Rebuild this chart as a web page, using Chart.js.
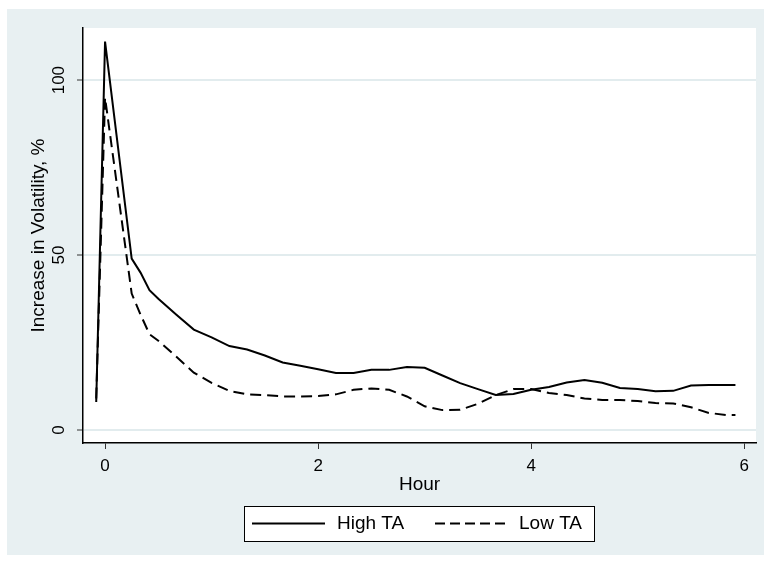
<!DOCTYPE html>
<html lang="en">
<head>
    <meta charset="UTF-8">
    <title>Increase in Volatility</title>
    <script src="https://cdn.jsdelivr.net/npm/chart.js"></script>
    <style>
        body {
            margin: 0;
            background: #ffffff;
        }
        .wrap {
            width: 764px;
            height: 562px;
        }
    </style>
</head>
<body>
    <div class="wrap">
        <canvas id="volChart" width="764" height="562"></canvas>
    </div>

    <script>
        // Hours after the event (x values)
        const hours = [-0.083, 0, 0.25, 0.333, 0.417, 0.5, 0.667, 0.833, 1.0, 1.167, 1.333, 1.5, 1.667, 1.833, 2.0, 2.167, 2.333, 2.5, 2.667, 2.833, 3.0, 3.167, 3.333, 3.5, 3.667, 3.833, 4.0, 4.167, 4.333, 4.5, 4.667, 4.833, 5.0, 5.167, 5.333, 5.5, 5.667, 5.833, 5.917];

        // Increase in volatility, %
        const highTA = [8, 111, 49, 45, 40, 37.5, 33, 28.7, 26.5, 24, 23, 21.3, 19.3, 18.4, 17.4, 16.3, 16.3, 17.2, 17.2, 18, 17.8, 15.6, 13.4, 11.7, 10, 10.3, 11.5, 12.3, 13.6, 14.3, 13.5, 12, 11.7, 11.1, 11.2, 12.7, 12.9, 12.9, 12.9];
        const lowTA = [9, 95, 39, 33, 27.4, 25.5, 21, 16.4, 13.5, 11.2, 10.2, 10, 9.6, 9.6, 9.7, 10.2, 11.5, 11.9, 11.5, 9.6, 6.8, 5.7, 5.8, 7.5, 10, 11.7, 11.7, 10.6, 10, 9, 8.6, 8.6, 8.3, 7.7, 7.6, 6.5, 4.9, 4.3, 4.3];

        // Tick labels
        const xTicks = [0, 2, 4, 6];
        const yTicks = [0, 50, 100];

        const seriesNames = ["High TA", "Low TA"];

        const FONT = "'Liberation Sans', Arial, sans-serif";
        const BG = "#e8f0f2";

        // grey page background + white plot region
        const backdrop = {
            id: 'backdrop',
            beforeDraw(chart) {
                const ctx = chart.ctx;
                const a = chart.chartArea;
                ctx.save();
                ctx.fillStyle = '#ffffff';
                ctx.fillRect(0, 0, chart.width, chart.height);
                ctx.fillStyle = BG;
                ctx.fillRect(7, 9, chart.width - 7, 546);
                ctx.fillStyle = '#ffffff';
                ctx.fillRect(a.left, a.top, a.right - a.left, a.bottom - a.top);
                ctx.restore();
            }
        };

        // rotated y tick labels (stata style) and the boxed legend
        const extras = {
            id: 'extras',
            afterDraw(chart) {
                const ctx = chart.ctx;
                const y = chart.scales.y;
                ctx.save();
                ctx.fillStyle = '#000';
                ctx.font = '17px ' + FONT;
                ctx.textAlign = 'center';
                ctx.textBaseline = 'middle';
                yTicks.forEach(v => {
                    ctx.save();
                    ctx.translate(59, y.getPixelForValue(v));
                    ctx.rotate(-Math.PI / 2);
                    ctx.fillText(String(v), 0, 0);
                    ctx.restore();
                });

                // legend
                ctx.fillStyle = '#ffffff';
                ctx.fillRect(244.5, 506.5, 350, 35);
                ctx.strokeStyle = '#000';
                ctx.lineWidth = 1;
                ctx.strokeRect(244.5, 506.5, 350, 35);

                ctx.lineWidth = 2;
                ctx.beginPath();
                ctx.moveTo(252, 523.5);
                ctx.lineTo(325, 523.5);
                ctx.stroke();

                ctx.setLineDash([10, 5]);
                ctx.beginPath();
                ctx.moveTo(435, 523.5);
                ctx.lineTo(508, 523.5);
                ctx.stroke();
                ctx.setLineDash([]);

                ctx.fillStyle = '#000';
                ctx.font = '19px ' + FONT;
                ctx.textAlign = 'left';
                ctx.fillText(seriesNames[0], 337, 524);
                ctx.fillText(seriesNames[1], 519, 524);
                ctx.restore();
            }
        };

        const ctx = document.getElementById('volChart').getContext('2d');
        const volChart = new Chart(ctx, {
            type: 'line',
            data: {
                datasets: [
                    {
                        label: seriesNames[0],
                        data: hours.map((h, i) => ({ x: h, y: highTA[i] })),
                        borderColor: '#000',
                        borderWidth: 2,
                        pointRadius: 0,
                        tension: 0,
                        fill: false
                    },
                    {
                        label: seriesNames[1],
                        data: hours.map((h, i) => ({ x: h, y: lowTA[i] })),
                        borderColor: '#000',
                        borderWidth: 2,
                        borderDash: [11, 6],
                        pointRadius: 0,
                        tension: 0,
                        fill: false
                    }
                ]
            },
            options: {
                responsive: false,
                animation: false,
                layout: {
                    padding: { left: 23, top: 28, right: 8, bottom: 62 }
                },
                plugins: {
                    legend: { display: false },
                    tooltip: { enabled: false }
                },
                scales: {
                    x: {
                        type: 'linear',
                        min: -0.207,
                        max: 6.11,
                        afterBuildTicks: s => { s.ticks = xTicks.map(v => ({ value: v })); },
                        afterFit: s => { s.height = 57; },
                        grid: {
                            drawOnChartArea: false,
                            drawTicks: true,
                            tickLength: 6,
                            tickColor: '#333'
                        },
                        border: { color: '#000', width: 1.5 },
                        ticks: {
                            color: '#000',
                            padding: 7,
                            maxRotation: 0,
                            font: { family: FONT, size: 17 }
                        },
                        title: {
                            display: true,
                            text: 'Hour',
                            color: '#000',
                            font: { family: FONT, size: 19 }
                        }
                    },
                    y: {
                        min: -3.7,
                        max: 114.9,
                        afterBuildTicks: s => { s.ticks = yTicks.map(v => ({ value: v })); },
                        afterFit: s => { s.width = 60; },
                        grid: {
                            color: '#e2ecee',
                            lineWidth: 2,
                            drawTicks: true,
                            tickLength: 6,
                            tickColor: '#333',
                            tickWidth: 1
                        },
                        border: { color: '#000', width: 1.5 },
                        ticks: { display: false },
                        title: {
                            display: true,
                            text: 'Increase in Volatility, %',
                            color: '#000',
                            font: { family: FONT, size: 19 }
                        }
                    }
                }
            },
            plugins: [backdrop, extras]
        });
    </script>
</body>
</html>
